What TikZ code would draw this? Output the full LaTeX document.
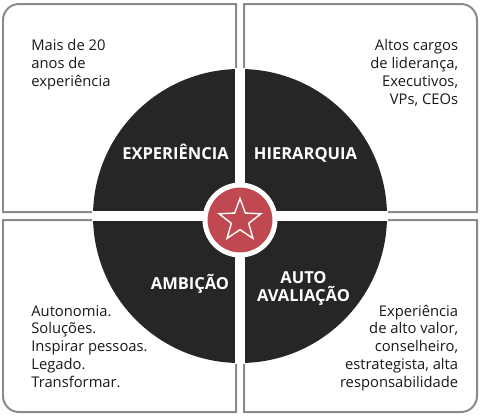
\documentclass[tikz,border=0pt]{standalone}
\usepackage{fontspec}
\setmainfont{Open Sans}
\usepackage{xcolor}
\usetikzlibrary{shapes.geometric, positioning, calc}
\definecolor{discdark}{HTML}{262626}
\definecolor{hubred}{HTML}{C04851}
\definecolor{edgegray}{HTML}{8A8A8A}

\begin{document}
\begin{tikzpicture}[
    x=0.02cm, y=-0.02cm,
    panel/.style={draw=edgegray, line width=0.04cm, fill=white},
    disc/.style={fill=discdark},
    gap/.style={draw=white, line width=0.2cm},
    note/.style={inner sep=0pt, font=\fontsize{8.4}{10.2}\selectfont, text=black!90},
    tag/.style={inner sep=0pt, font=\fontsize{9.4}{10.2}\selectfont\bfseries, text=white, align=center},
    hub/.style={circle, fill=hubred, draw=white, line width=0.1cm, minimum size=1.4cm, inner sep=0pt},
    starmark/.style={star, star points=5, star point ratio=2.4, draw=white, line width=0.8pt, minimum size=0.88cm, inner sep=0pt}
]
    \useasboundingbox (0,0) rectangle (480,417);

    % Panels
    \draw[panel] (236,212) -- (3,212) -- (3,20) arc[start angle=180, end angle=270, radius=16] -- (236,4) -- cycle;
    \draw[panel] (244,212) -- (244,4) -- (461,4) arc[start angle=270, end angle=360, radius=16] -- (477,212) -- cycle;
    \draw[panel] (236,220) -- (236,412) -- (19,412) arc[start angle=90, end angle=180, radius=16] -- (3,220) -- cycle;
    \draw[panel] (244,220) -- (244,412) -- (461,412) arc[start angle=90, end angle=0, radius=16] -- (477,220) -- cycle;

    % Disc and gaps
    \fill[disc] (240,216) circle[radius=147];
    \draw[gap] (240,68) -- (240,364);
    \draw[gap] (92,216) -- (388,216);

    % Hub
    \node[hub] (hub) at (240,220) {};
    \node[starmark] (star) at (240,220.5) {};

    % Quadrant labels (base = last line)
    \node[tag, anchor=base] (exptag) at (175.5,159.3) {EXPERIÊNCIA};
    \node[tag, anchor=base] (hiertag) at (305.5,159.3) {HIERARQUIA};
    \node[tag, anchor=base] (ambtag) at (190,289.7) {AMBIÇÃO};
    \node[tag, anchor=base] (autotag) at (303.5,301.3) {AUTO\\AVALIAÇÃO};

    % Notes (base = last line)
    \node[note, anchor=base west, align=left] (expnote) at (31,86) {Mais de 20\\anos de\\experiência};
    \node[note, anchor=base east, align=right] (hiernote) at (458.5,104) {Altos cargos\\de liderança,\\Executivos,\\VPs, CEOs};
    \node[note, anchor=base west, align=left] (ambnote) at (31,387.7) {Autonomia.\\Soluções.\\Inspirar pessoas.\\Legado.\\Transformar.};
    \node[note, anchor=base east, align=right] (autonote) at (458.5,387.7) {Experiência\\de alto valor,\\conselheiro,\\estrategista, alta\\responsabilidade};
\end{tikzpicture}
\end{document}
